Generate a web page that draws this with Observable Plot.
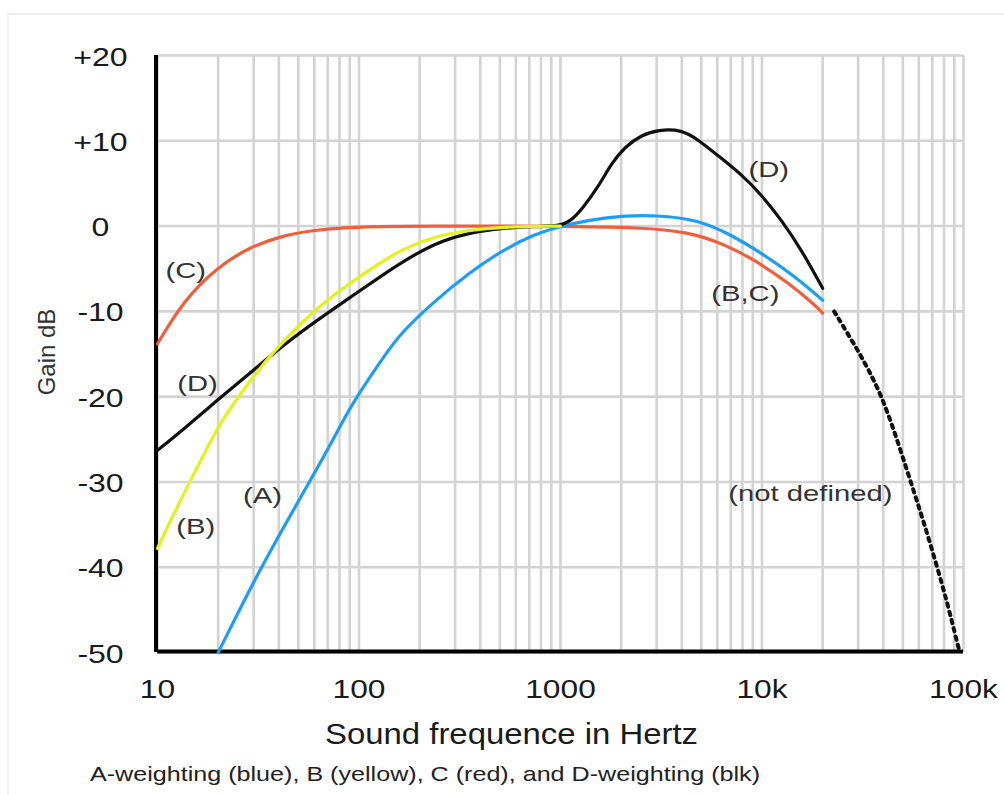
<!DOCTYPE html>
<html><head><meta charset="utf-8">
<script src="https://cdn.jsdelivr.net/npm/d3@7"></script>
<script src="https://cdn.jsdelivr.net/npm/@observablehq/plot@0.6"></script>
<style>
body{margin:0;background:#fff;font-family:"Liberation Sans",Arial,sans-serif;}
#wrap{position:relative;width:1004px;height:795px;overflow:hidden;background:#fff;}
#frame{position:absolute;left:7px;top:13px;right:0;bottom:0;border-top:2px solid #ededed;border-left:2px solid #f3f3f3;}
#chart{position:absolute;left:0;top:0;}
#caption{position:absolute;left:90px;top:762px;font-size:21px;line-height:24px;color:#222;white-space:nowrap;transform-origin:0 0;}
</style></head>
<body><div id="wrap"><div id="frame"></div><div id="chart"></div><div id="caption"><span id="captext">A-weighting (blue), B (yellow), C (red), and D-weighting (blk)</span></div></div>
<script>
// ---- data ----
const xTicks = [10, 100, 1000, 10000, 100000];
const xTickLabels = ["10", "100", "1000", "10k", "100k"];
const yTicks = [20, 10, 0, -10, -20, -30, -40, -50];
const yTickLabels = ["+20", "+10", "0", "-10", "-20", "-30", "-40", "-50"];

// A-weighting (blue)
const freqA = [20, 24.9, 31.3, 42.5, 57.7, 75.4, 91.2, 133.6, 161.8, 237, 347, 509, 745, 1000, 1727, 3062, 4842, 6826, 10000, 14650, 20000];
const dbA   = [-50, -45.5, -40.9, -35.2, -29.7, -24.8, -21.0, -15.2, -12.5, -8.8, -5.6, -2.9, -0.95, 0, 1.17, 1.3, 0.7, -0.86, -3.2, -5.95, -8.7];
// B-weighting (yellow)
const freqB = [10, 11.6, 14.6, 17.7, 21.4, 24.9, 32.5, 42.5, 62.3, 91.2, 133.6, 161.8, 237, 347, 509, 1000];
const dbB   = [-37.8, -34.5, -29.8, -25.9, -22.4, -20.2, -16.5, -13.4, -9.5, -6.6, -4.0, -2.8, -1.2, -0.5, -0.1, 0];
// C-weighting (red)
const freqC = [10, 13.5, 19.8, 29, 42.5, 62.3, 98.5, 200, 1000, 2529, 4318, 6324, 9268, 13580, 18420, 20000];
const dbC   = [-13.8, -8.7, -4.8, -2.4, -1.06, -0.4, -0.08, 0, 0, -0.16, -0.7, -2.0, -4.0, -6.7, -9.3, -10.2];
// D-weighting (black)
const freqD = [10, 13.5, 19.6, 27.9, 32.5, 42.5, 62.3, 91.2, 133.6, 161.8, 237, 347, 509, 745, 1000, 1135, 1271, 1541, 1795, 2089, 2529, 3062, 4000, 4842, 6092, 7950, 10000, 12580, 15810, 20000];
const dbD   = [-26.3, -23.8, -20.5, -17.5, -16.2, -13.9, -11.0, -8.3, -5.6, -4.3, -2.0, -0.8, -0.25, -0.05, 0, 0.7, 1.9, 4.6, 7.4, 9.3, 10.7, 11.3, 11.3, 10.1, 8.2, 6.0, 3.6, 0.6, -2.9, -7.3];
// not defined (dotted)
const freqND = [22800, 30270, 35250, 40290, 47860, 54700, 62520, 72810, 83230, 93330, 95500];
const dbND   = [-10.0, -14.75, -17.7, -20.6, -25.7, -30.0, -34.2, -39.4, -44.2, -49.0, -49.8];

// annotations
const labelText = ["(C)", "(D)", "(B)", "(A)", "(D)", "(B,C)", "(not defined)"];
const labelF    = [13.8, 15.8, 15.5, 33.2, 10800, 8260, 17380];
const labelDb   = [-5.2, -18.5, -35.3, -31.6, 6.6, -7.9, -31.4];

const xTitle = "Sound frequence in Hertz";
const yTitle = "Gain dB";

// ---- build ----
const rows = (f, d) => f.map((v, i) => ({f: v, db: d[i]}));
const gridFreqs = [];
for (const dec of [10, 100, 1000, 10000]) for (let m = 1; m <= 9; m++) gridFreqs.push(m * dec);
gridFreqs.push(100000);
const labels = labelText.map((t, i) => ({t, f: labelF[i], db: labelDb[i]}));

const gridColor = "#d3d3d3";
const lw = 3.2;
const chart = Plot.plot({
  width: 1004,
  height: 752,
  marginLeft: 157,
  marginRight: 41,
  marginTop: 55,
  marginBottom: 100,
  style: {fontFamily: '"Liberation Sans", Arial, sans-serif', background: "transparent", overflow: "visible", color: "#1a1a1a"},
  x: {type: "log", domain: [10, 100000], axis: null},
  y: {domain: [-50, 20], axis: null},
  marks: [
    Plot.ruleX(gridFreqs, {stroke: gridColor, strokeWidth: 2.6}),
    Plot.ruleY(yTicks, {stroke: gridColor, strokeWidth: 2.6}),
    Plot.ruleX([10], {stroke: "#000", strokeWidth: 4, dx: -1.5}),
    Plot.ruleY([-50], {stroke: "#000", strokeWidth: 4, x1: 10, x2: 100000, dy: -1}),
    Plot.axisX(xTicks, {tickSize: 0, tickPadding: 27, fontSize: 26, label: null, fill: "#1a1a1a",
      tickFormat: d => xTickLabels[xTicks.indexOf(d)]}),
    Plot.axisY(yTicks, {tickSize: 0, tickPadding: 57, textAnchor: "middle", fontSize: 25, label: null, fill: "#1a1a1a", dy: 2,
      tickFormat: d => yTickLabels[yTicks.indexOf(d)]}),
    Plot.line(rows(freqC, dbC), {x: "f", y: "db", stroke: "#ef5f3c", strokeWidth: lw, curve: "basis"}),
    Plot.line(rows(freqA, dbA), {x: "f", y: "db", stroke: "#1f9df2", strokeWidth: lw, curve: "basis"}),
    Plot.line(rows(freqD, dbD), {x: "f", y: "db", stroke: "#111", strokeWidth: lw, curve: "basis"}),
    Plot.line(rows(freqB, dbB), {x: "f", y: "db", stroke: "#e4f21c", strokeWidth: lw, curve: "basis"}),
    Plot.line(rows(freqND, dbND), {x: "f", y: "db", stroke: "#111", strokeWidth: 4, strokeDasharray: "3.5,5", curve: "basis"}),
    Plot.text(labels, {x: "f", y: "db", text: "t", fontSize: 22.5, fill: "#333"}),
    Plot.text([xTitle], {frameAnchor: "bottom", lineAnchor: "middle", textAnchor: "middle", dy: 82, dx: -49, fontSize: 30, fill: "#1a1a1a"}),
    Plot.text([yTitle], {frameAnchor: "left", lineAnchor: "middle", textAnchor: "middle", rotate: -90, dx: -110, dy: -2, fontSize: 24, fill: "#333"})
  ]
});
document.getElementById("chart").append(chart);

// widen text like the reference's (horizontally stretched) lettering
function fit(el, k, target) {
  const L = el.getComputedTextLength();
  if (!L) return;
  el.setAttribute("textLength", target ? target : L * k);
  el.setAttribute("lengthAdjust", "spacingAndGlyphs");
}
chart.querySelectorAll('g[aria-label="y-axis tick label"] text').forEach(el => fit(el, 1.28));
chart.querySelectorAll('g[aria-label="x-axis tick label"] text').forEach(el => fit(el, 1.22));
chart.querySelectorAll('g[aria-label="text"] text').forEach(el => {
  const s = el.textContent;
  if (s === xTitle) fit(el, 1, 373);
  else if (labelText.includes(s)) fit(el, 1.3);
});

const cap = document.getElementById("captext");
const w = cap.getBoundingClientRect().width;
document.getElementById("caption").style.transform = `scaleX(${670 / w})`;
</script>
</body></html>
